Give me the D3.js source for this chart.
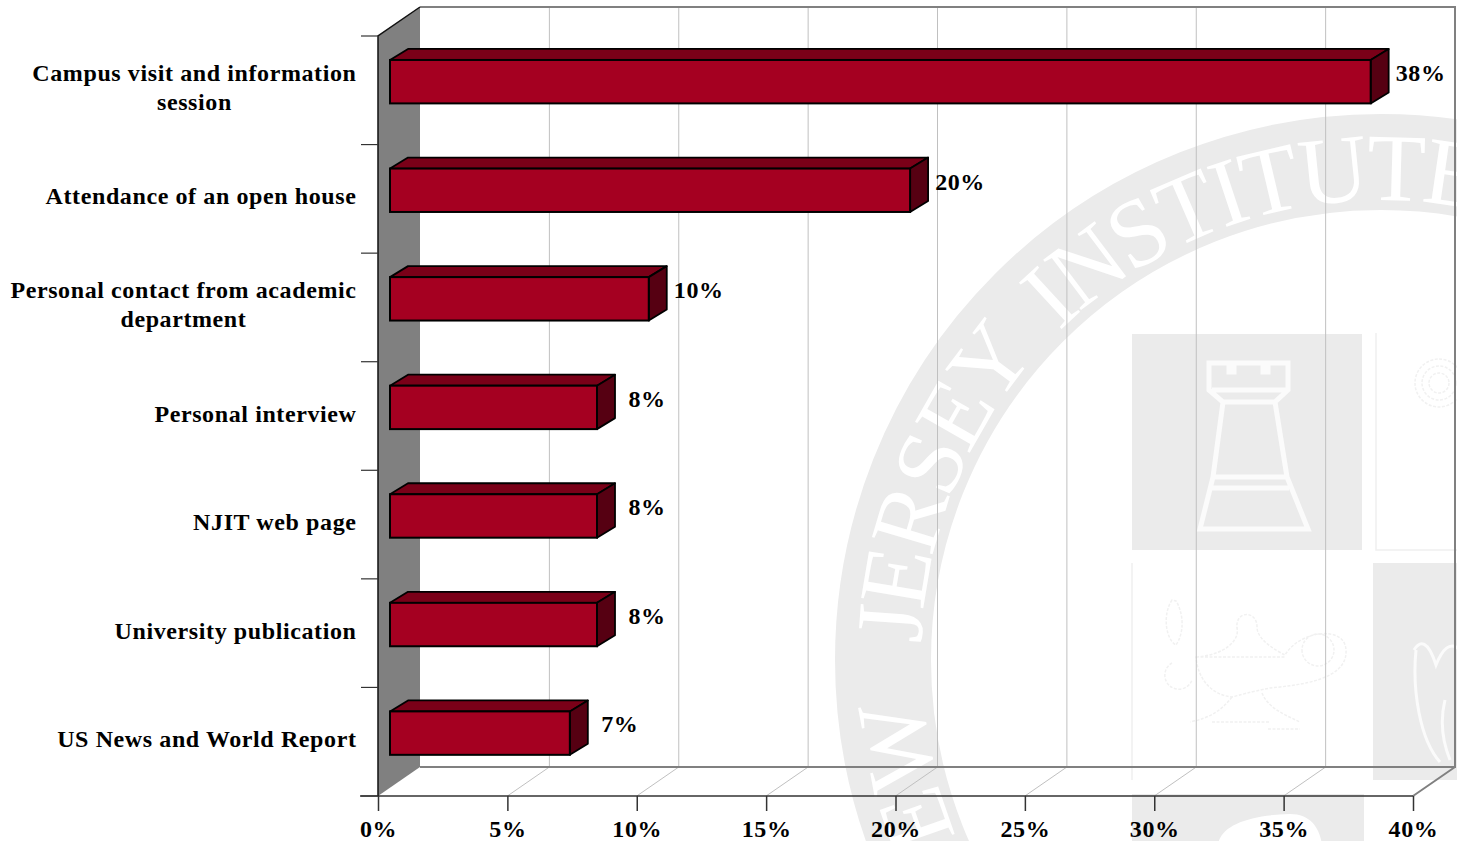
<!DOCTYPE html>
<html><head><meta charset="utf-8">
<script src="https://cdn.jsdelivr.net/npm/d3@7"></script>
<style>
html,body{margin:0;padding:0;background:#fff;overflow:hidden}
svg{display:block}
text{font-family:"Liberation Serif",serif;font-weight:700;fill:#000}
</style></head><body>
<svg id="c" width="1457" height="841"></svg>
<script>
const categories = [
  ["Campus visit and information","session"],
  ["Attendance of an open house"],
  ["Personal contact from academic","department"],
  ["Personal interview"],
  ["NJIT web page"],
  ["University publication"],
  ["US News and World Report"]
];
const values = [37.9, 20.1, 10, 8, 8, 8, 6.95];
const valueLabels = ["38%","20%","10%","8%","8%","8%","7%"];
const tickValues = [0,5,10,15,20,25,30,35,40];

const svg = d3.select("#c");
const W3 = {dx:42, dy:-29};       // wall depth
const B3 = {dx:18, dy:-11};       // bar depth
const x = d3.scaleLinear().domain([0,40]).range([378,1413]);
const y = d3.scaleBand().domain(d3.range(categories.length)).range([36,796]).paddingInner(0.6).paddingOuter(0.3);
const barDX = 12, barDY = -8.6;
const top0 = y.range()[0], bot0 = y.range()[1];
const pts = a => a.map(p=>p.join(",")).join(" ");
const FS = 24, LS = 0.6;

/* ---------- watermark seal ---------- */
const wm = svg.append("g");
const G = "#ebebeb", cx = 1381, cy = 660;
wm.append("circle").attr("cx",cx).attr("cy",cy).attr("r",(546+450)/2).attr("fill","none").attr("stroke",G).attr("stroke-width",96);
const R = 460;
const defs = svg.append("defs");
const sx = cx + R*Math.cos(Math.PI*0.83), sy = cy + R*Math.sin(Math.PI*0.83);
defs.append("path").attr("id","arc").attr("d",`M${sx},${sy} A${R},${R} 0 1 1 ${cx+R*Math.cos(0.5)},${cy+R*Math.sin(0.5)}`);
wm.append("text").attr("font-size",96).style("fill","#fff").style("font-weight",400).style("white-space","pre").attr("letter-spacing",-4.5)
  .append("textPath").attr("href","#arc").attr("startOffset",0).text("NEW   JERSEY  INSTITUTE");
// tiles
wm.append("rect").attr("x",1132).attr("y",334).attr("width",230).attr("height",216).attr("fill",G);
wm.append("rect").attr("x",1373).attr("y",563).attr("width",90).attr("height",217).attr("fill",G);
wm.append("rect").attr("x",1132).attr("y",794).attr("width",232).attr("height",60).attr("fill",G);
wm.append("path").attr("d","M1376,333V550H1460M1132,563V780").attr("fill","none").attr("stroke","#f0f0f0").attr("stroke-width",1.5);
// rook
wm.append("path").attr("fill","none").attr("stroke","#fbfbfb").attr("stroke-width",5)
  .attr("d","M1209,363H1288V390L1275,402L1287,477L1308,529H1200L1213,477L1223,402L1209,390ZM1223,402H1275M1213,477H1287M1212,488H1289M1212,390H1288M1229,363V372H1234V363M1263,363V372H1268V363");
// lamp
wm.append("path").attr("fill","none").attr("stroke","#f1f1f1").attr("stroke-width",1.5).attr("stroke-dasharray","3 1.5")
  .attr("d","M1196,657C1225,655 1240,640 1237,628C1235,610 1258,610 1257,628C1258,640 1275,650 1285,655C1300,630 1345,625 1346,650C1348,680 1300,685 1270,688C1250,692 1240,695 1232,697C1212,695 1198,680 1196,657ZM1196,657H1285M1232,697C1222,710 1210,718 1190,722M1262,693C1268,708 1285,715 1300,722M1212,722H1270M1268,729H1300M1302,650A16,16 0 1 0 1334,650A16,16 0 1 0 1302,650M1172,663A14,14 0 1 0 1192,680M1172,600C1162,615 1166,640 1176,645C1186,630 1182,610 1176,601Z");
wm.append("g").attr("fill","none").attr("stroke","#f1f1f1").attr("stroke-width",1.5).attr("stroke-dasharray","3 1.5")
  .selectAll("circle").data([24,17,10]).join("circle").attr("cx",1439).attr("cy",383).attr("r",d=>d);
// shield outline, bottom blob
wm.append("path").attr("fill","none").attr("stroke","#fbfbfb").attr("stroke-width",3)
  .attr("d","M1414,650C1420,640 1428,640 1436,665C1442,650 1450,640 1460,650M1416,650C1412,690 1420,740 1440,762M1445,700C1440,720 1442,740 1450,760");
wm.append("path").attr("fill","#fff").attr("d","M1218,845C1220,825 1250,815 1290,814C1312,814 1320,830 1322,845Z");

/* ---------- 3D frame ---------- */
svg.append("polygon").attr("fill","#808080")
  .attr("points",pts([[378,top0],[378+W3.dx,top0+W3.dy],[378+W3.dx,bot0+W3.dy],[378,bot0]]));

// gridlines on back wall and floor
const grid = svg.append("g").attr("stroke","#c0c0c0").attr("stroke-width",1).attr("fill","none");
grid.selectAll("path").data(tickValues.slice(1,-1)).join("path")
  .attr("d",d=>`M${x(d)},${bot0}L${x(d)+W3.dx},${bot0+W3.dy}V${top0+W3.dy}`);
// frame
svg.append("path").attr("fill","none").attr("stroke","#808080").attr("stroke-width",2)
  .attr("d",`M${420},${top0+W3.dy}H${x(40)+W3.dx}V${bot0+W3.dy}H420M${x(40)},${bot0}L${x(40)+W3.dx},${bot0+W3.dy}`);

/* ---------- axes ---------- */
const xAxis = d3.axisBottom(x).tickValues(tickValues).tickFormat(d=>d+"%").tickSize(15).tickPadding(9);
const gx = svg.append("g").attr("transform",`translate(0,${bot0})`).call(xAxis);
gx.selectAll("path,line").attr("stroke","#333").attr("stroke-width",1.5);
gx.select(".domain").attr("d",`M360,0H${x(40)}`);
gx.selectAll("text").style("font-size",FS+"px").style("font-family","'Liberation Serif',serif").style("font-weight",700).attr("fill","#000").attr("letter-spacing",LS);

// vertical axis
svg.append("path").attr("fill","none").attr("stroke","#111").attr("stroke-width",1.5)
  .attr("d",`M378,${bot0}V${top0}L420,${top0+W3.dy}`);
const cticks = d3.range(categories.length+1).map(i=>top0+i*y.step());
svg.append("g").attr("stroke","#333").attr("stroke-width",1.2).selectAll("line").data(cticks).join("line")
  .attr("x1",361).attr("x2",378).attr("y1",d=>d).attr("y2",d=>d);

/* ---------- bars ---------- */
const bars = svg.append("g").selectAll("g").data(values).join("g");
const xL = x(0)+barDX;
const front = (d,i)=>{const t=y(i)+barDY;return {l:xL,r:x(d)+barDX,t,b:t+y.bandwidth()};};
bars.append("polygon").attr("fill","#7a0018").attr("stroke","#000").attr("stroke-width",1.8).attr("stroke-linejoin","round")
  .attr("points",(d,i)=>{const f=front(d,i);return pts([[f.l,f.t],[f.l+B3.dx,f.t+B3.dy],[f.r+B3.dx,f.t+B3.dy],[f.r,f.t]]);});
bars.append("polygon").attr("fill","#560012").attr("stroke","#000").attr("stroke-width",1.8).attr("stroke-linejoin","round")
  .attr("points",(d,i)=>{const f=front(d,i);return pts([[f.r,f.t],[f.r+B3.dx,f.t+B3.dy],[f.r+B3.dx,f.b+B3.dy],[f.r,f.b]]);});
bars.append("rect").attr("fill","#a50021").attr("stroke","#000").attr("stroke-width",2)
  .attr("x",(d,i)=>front(d,i).l).attr("y",(d,i)=>front(d,i).t)
  .attr("width",(d,i)=>front(d,i).r-front(d,i).l).attr("height",y.bandwidth());

/* ---------- value labels ---------- */
svg.append("g").selectAll("text").data(values).join("text")
  .attr("font-size",FS).attr("letter-spacing",LS).attr("text-anchor","middle")
  .attr("x",d=>x(d)+barDX+50).attr("y",(d,i)=>y(i)+barDY+21)
  .text((d,i)=>valueLabels[i]);

/* ---------- category labels ---------- */
const labRight = 356.5, lineH = 29;
const labs = svg.append("g").selectAll("g").data(categories).join("g");
labs.each(function(lines,i){
  const g = d3.select(this);
  const mid = top0 + (i+0.5)*y.step() - 2 + 7.5;
  const base = mid - (lines.length-1)*lineH/2;
  const first = g.append("text").attr("font-size",FS).attr("letter-spacing",LS).attr("text-anchor","end").attr("x",labRight).attr("y",base).text(lines[0]);
  if(lines.length>1){
    const w = first.node().getComputedTextLength();
    g.append("text").attr("font-size",FS).attr("letter-spacing",LS).attr("text-anchor","middle").attr("x",labRight-w/2).attr("y",base+lineH).text(lines[1]);
  }
});
</script>
</body></html>
